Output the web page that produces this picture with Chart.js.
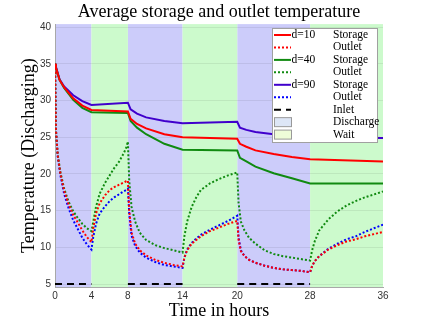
<!DOCTYPE html>
<html>
<head>
<meta charset="utf-8">
<script src="https://cdn.jsdelivr.net/npm/chart.js@4"></script>
<style>
    html, body { margin: 0; padding: 0; background: #fff; }
</style>
</head>
<body>
<canvas id="myChart" width="423" height="323"></canvas>
<script>
// time axis ticks (hours) and temperature ticks
const xTicks = [0, 4, 8, 14, 20, 28, 36];
const yTicks = [5, 10, 15, 20, 25, 30, 35, 40];

// discharge / wait periods
const dischargeStart = [0, 8, 20];
const dischargeEnd = [4, 14, 28];
const waitStart = [4, 14, 28];
const waitEnd = [8, 20, 36];
const inletTemp = 5;

// average storage temperature
const storageTime = [0, 0.1, 0.5, 1, 2, 3, 4, 8, 8.3, 9, 10, 12, 14, 20, 20.3, 21, 22, 24, 26, 28, 36];
const storage10 = [35, 34.5, 32.8, 31.8, 30.3, 29.3, 28.7, 28.5, 27.5, 26.8, 26.2, 25.4, 25.0, 24.8, 24.1, 23.7, 23.2, 22.7, 22.3, 22.0, 21.7];
const storage40 = [35, 34.5, 32.8, 31.7, 30.1, 29.0, 28.4, 28.3, 27.2, 26.3, 25.4, 24.1, 23.3, 23.2, 22.2, 21.7, 21.0, 20.1, 19.4, 18.7, 18.7];
const storage90 = [35, 34.6, 32.9, 31.9, 30.7, 29.9, 29.4, 29.7, 28.8, 28.2, 27.7, 27.2, 26.9, 27.1, 26.3, 26.0, 25.7, 25.4, 25.2, 25.0, 24.9];

// outlet temperature
const outletTime = [
    0, 0.1, 0.3, 0.6, 1, 1.5, 2, 2.5, 3, 3.5, 4,
    4.2, 4.5, 4.9, 5.5, 6, 6.5, 7, 7.5, 7.8, 8,
    8.15, 8.4, 8.8, 9.3, 10, 11, 12, 13, 14,
    14.2, 14.5, 15, 15.5, 16, 17, 18, 19, 20,
    20.15, 20.4, 20.8, 21.3, 22, 23, 24, 25, 26, 27, 28,
    28.2, 28.5, 29, 30, 31, 32, 33, 34, 35, 36
];
const outlet10 = [
    35, 26, 22.5, 20, 17.7, 15.8, 14.4, 13.4, 12.3, 11.4, 10.7,
    12.6, 14.6, 16.0, 17.1, 17.8, 18.2, 18.5, 18.8, 19.0, 19.1,
    15, 12, 10.5, 9.6, 8.9, 8.3, 7.9, 7.6, 7.4,
    8.6, 9.6, 10.5, 11.0, 11.5, 12.2, 12.7, 13.2, 13.6,
    11, 9.5, 8.8, 8.3, 7.9, 7.5, 7.2, 7.0, 6.9, 6.8, 6.6,
    7.4, 8.1, 8.8, 9.7, 10.3, 10.8, 11.1, 11.5, 11.8, 12.1
];
const outlet40 = [
    35, 26, 22.6, 20.2, 18, 16.2, 14.9, 14.0, 13.2, 12.6, 12.2,
    13.5, 15.5, 17.3, 18.8, 19.8, 20.8, 21.6, 22.7, 23.5, 24.4,
    19, 15.5, 13.5, 12.0, 11.0, 10.3, 9.9, 9.6, 9.3,
    11.5, 13.5, 15.5, 16.8, 17.8, 18.7, 19.3, 19.8, 20.2,
    16, 13.5, 12.3, 11.3, 10.5, 9.6, 9.1, 8.8, 8.6, 8.4, 8.2,
    9.5, 10.8, 12.3, 13.8, 14.9, 15.7, 16.3, 16.8, 17.2, 17.6
];
const outlet90 = [
    35, 26, 22.4, 19.8, 17.3, 15.3, 13.7, 12.5, 11.3, 10.4, 9.7,
    11.4, 13.2, 14.6, 15.6, 16.3, 16.8, 17.2, 17.6, 17.8, 18.0,
    14.5, 11.6, 10.2, 9.3, 8.6, 8.0, 7.6, 7.4, 7.2,
    8.6, 9.7, 10.6, 11.2, 11.7, 12.4, 13.0, 13.6, 14.3,
    11.3, 9.6, 8.8, 8.3, 7.9, 7.5, 7.2, 7.0, 6.9, 6.8, 6.6,
    7.4, 8.1, 8.8, 9.8, 10.5, 11.1, 11.5, 12.1, 12.6, 13.1
];

// legend texts
const legendGroup = ['d=10', '', 'd=40', '', 'd=90', '', '', '', ''];
const legendKind = ['Storage', 'Outlet', 'Storage', 'Outlet', 'Storage', 'Outlet', 'Inlet', 'Discharge', 'Wait'];

const serif = '"Liberation Serif", "Times New Roman", serif';
const sans = '"Liberation Sans", Arial, sans-serif';

const dischargeColor = 'rgb(204, 204, 250)';
const waitColor = 'rgb(204, 250, 204)';

function pts(xs, ys) {
    return xs.map((x, i) => ({ x: x, y: ys[i] }));
}

// inlet is only shown while discharging
let inletData = [];
dischargeStart.forEach((s, i) => {
    inletData.push({ x: s, y: inletTemp });
    inletData.push({ x: dischargeEnd[i], y: inletTemp });
    inletData.push({ x: dischargeEnd[i], y: null });
});

function line(label, data, color, dash, width) {
    return {
        label: label,
        data: data,
        borderColor: color,
        backgroundColor: color,
        borderWidth: width || 2,
        borderDash: dash || [],
        pointRadius: 0,
        tension: 0,
        fill: false,
        spanGaps: false
    };
}

const datasets = [
    line('d=10 Storage', pts(storageTime, storage10), '#ff0000'),
    line('d=10 Outlet', pts(outletTime, outlet10), '#ff0000', [2, 2]),
    line('d=40 Storage', pts(storageTime, storage40), '#108a10'),
    line('d=40 Outlet', pts(outletTime, outlet40), '#108a10', [2, 2]),
    line('d=90 Storage', pts(storageTime, storage90), '#4000cc'),
    line('d=90 Outlet', pts(outletTime, outlet90), '#0000ff', [2, 2]),
    line('Inlet', inletData, '#000000', [7, 5])
];

// shaded periods behind the curves
const periodShading = {
    id: 'periodShading',
    beforeDraw(chart) {
        const ctx = chart.ctx;
        const xs = chart.scales.x;
        const area = chart.chartArea;
        ctx.save();
        ctx.fillStyle = dischargeColor;
        dischargeStart.forEach((s, i) => {
            const x0 = xs.getPixelForValue(s), x1 = xs.getPixelForValue(dischargeEnd[i]);
            ctx.fillRect(x0, area.top, x1 - x0, area.bottom - area.top);
        });
        ctx.fillStyle = waitColor;
        waitStart.forEach((s, i) => {
            const x0 = xs.getPixelForValue(s), x1 = xs.getPixelForValue(waitEnd[i]);
            ctx.fillRect(x0, area.top, x1 - x0, area.bottom - area.top);
        });
        ctx.restore();
    }
};

// MATLAB style legend box in the top right corner
const boxLegend = {
    id: 'boxLegend',
    afterDraw(chart) {
        const ctx = chart.ctx;
        const left = 272, top = 28, w = 105, h = 114;
        const rowH = 12.45;
        ctx.save();
        ctx.fillStyle = '#ffffff';
        ctx.fillRect(left, top, w, h);
        ctx.strokeStyle = '#a0a0a0';
        ctx.lineWidth = 1;
        ctx.strokeRect(left + 0.5, top + 0.5, w, h);
        ctx.font = '11.5px ' + serif;
        ctx.textBaseline = 'middle';
        ctx.fillStyle = '#000';
        legendKind.forEach((kind, i) => {
            const y = top + 7 + i * rowH;
            if (i < datasets.length) {
                const ds = datasets[i];
                ctx.strokeStyle = ds.borderColor;
                ctx.lineWidth = 2;
                ctx.setLineDash(ds.borderDash);
                ctx.beginPath();
                ctx.moveTo(274, y);
                ctx.lineTo(291, y);
                ctx.stroke();
                ctx.setLineDash([]);
            } else {
                ctx.fillStyle = kind === 'Discharge' ? '#dde6f6' : '#eefcd8';
                ctx.fillRect(274, y - 4.5, 17, 9);
                ctx.strokeStyle = '#999';
                ctx.lineWidth = 1;
                ctx.strokeRect(274.5, y - 4.5, 17, 9);
            }
            ctx.fillStyle = '#000';
            ctx.textAlign = 'left';
            if (legendGroup[i]) ctx.fillText(legendGroup[i], 291.5, y);
            ctx.fillText(kind, 333, y);
        });
        ctx.restore();
    }
};

const ctx = document.getElementById('myChart').getContext('2d');
const chart = new Chart(ctx, {
    type: 'line',
    data: { datasets: datasets },
    options: {
        responsive: false,
        animation: false,
        devicePixelRatio: 1,
        layout: { padding: { right: 40 } },
        plugins: {
            legend: { display: false },
            tooltip: { enabled: false },
            title: {
                display: true,
                fullSize: false,
                text: 'Average storage and outlet temperature',
                color: '#000',
                font: { family: serif, size: 18, weight: 'normal' },
                padding: { top: 1, bottom: 1.5 }
            }
        },
        scales: {
            x: {
                type: 'linear',
                min: 0,
                max: 36,
                afterBuildTicks: scale => { scale.ticks = xTicks.map(v => ({ value: v })); },
                afterFit: scale => { scale.height = 36; },
                ticks: {
                    autoSkip: false,
                    maxRotation: 0,
                    padding: 3,
                    color: '#333',
                    font: { family: sans, size: 10 }
                },
                grid: { display: false, drawTicks: false },
                border: { display: true, color: '#a8a8a8' },
                title: {
                    display: true,
                    text: 'Time in hours',
                    color: '#000',
                    font: { family: serif, size: 18 },
                    padding: { top: 0, bottom: 1 }
                }
            },
            y: {
                type: 'linear',
                min: 4.6,
                max: 40.4,
                afterBuildTicks: scale => { scale.ticks = yTicks.map(v => ({ value: v })); },
                afterFit: scale => { scale.width = 55; },
                ticks: {
                    padding: 4,
                    color: '#333',
                    font: { family: sans, size: 10 }
                },
                grid: { color: 'rgba(0,0,0,0.07)', drawTicks: false },
                border: { display: true, color: '#a8a8a8' },
                title: {
                    display: true,
                    text: 'Temperature (Discharging)',
                    color: '#000',
                    font: { family: serif, size: 18 },
                    padding: { top: 18, bottom: 0 }
                }
            }
        }
    },
    plugins: [periodShading, boxLegend]
});
</script>
</body>
</html>
